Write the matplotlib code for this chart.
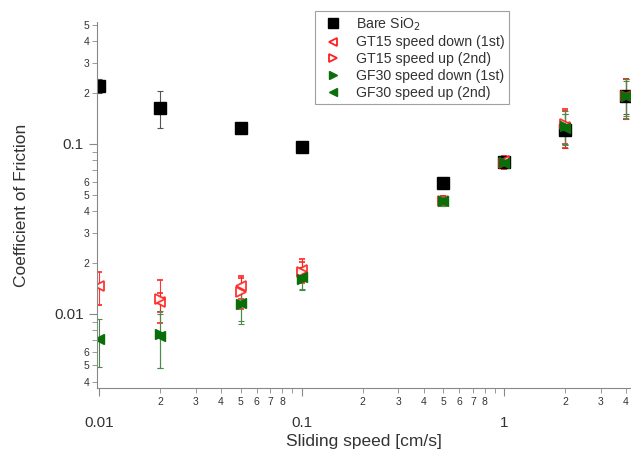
import numpy as np
import matplotlib.pyplot as plt
from matplotlib.lines import Line2D
from matplotlib.ticker import LogLocator, FuncFormatter

plt.rcParams['font.family'] = ['Liberation Sans', 'DejaVu Sans']

speed = [0.01, 0.02, 0.05, 0.1, 0.5, 1, 2, 4]

sio2_y = [0.22, 0.162, 0.123, 0.096, 0.059, 0.078, 0.12, 0.19]
sio2_lo = [0.02, 0.038, 0.004, 0.003, 0.002, 0.004, 0.025, 0.04]
sio2_hi = [0.02, 0.043, 0.004, 0.003, 0.002, 0.004, 0.03, 0.05]

gt_down_x = [0.01, 0.02, 0.05, 0.1, 0.5, 1, 2, 4]
gt_down_y = [0.0145, 0.0118, 0.0145, 0.0182, 0.046, 0.079, 0.125, 0.19]
gt_down_err = [0.0032, 0.0015, 0.0022, 0.0028, 0.003, 0.006, 0.03, 0.05]

gt_up_x = [0.02, 0.05, 0.1, 0.5, 1, 2, 4]
gt_up_y = [0.0123, 0.0135, 0.0176, 0.046, 0.077, 0.13, 0.19]
gt_up_err = [0.0035, 0.0028, 0.0025, 0.003, 0.006, 0.03, 0.05]

gf_down_x = [0.02, 0.05, 0.1, 0.5, 1, 2, 4]
gf_down_y = [0.0076, 0.0115, 0.016, 0.046, 0.078, 0.128, 0.19]
gf_down_err = [0.0028, 0.0028, 0.0022, 0.003, 0.005, 0.028, 0.05]

gf_up_x = [0.01, 0.02, 0.05, 0.1, 0.5, 1, 2, 4]
gf_up_y = [0.0071, 0.0074, 0.0116, 0.0165, 0.046, 0.077, 0.124, 0.19]
gf_up_err = [0.0022, 0.0026, 0.0025, 0.0025, 0.003, 0.005, 0.025, 0.045]

fig = plt.figure(figsize=(6.31, 4.53), dpi=100)
ax = fig.add_axes([0.154, 0.1435, 0.846, 0.808])

red = '#ff2020'
green = '#0a6e0a'
ebkw = dict(capsize=2.5, elinewidth=0.8, capthick=0.8, linestyle='none')

ax.errorbar(speed, sio2_y, yerr=[sio2_lo, sio2_hi], marker='s', ms=8, color='black',
            ecolor='#555555', **ebkw)
ax.errorbar(gt_down_x, gt_down_y, yerr=gt_down_err, marker='<', ms=7, mfc='white', mec=red,
            mew=1.3, color=red, ecolor=red, alpha=0.9, **ebkw)
ax.errorbar(gt_up_x, gt_up_y, yerr=gt_up_err, marker='>', ms=7, mfc='white', mec=red,
            mew=1.3, color=red, ecolor=red, alpha=0.9, **ebkw)
ax.errorbar(gf_down_x, gf_down_y, yerr=gf_down_err, marker='>', ms=7, color=green,
            ecolor='#4a8a4a', **ebkw)
ax.errorbar(gf_up_x, gf_up_y, yerr=gf_up_err, marker='<', ms=7, color=green,
            ecolor='#4a8a4a', **ebkw)

ax.set_xscale('log')
ax.set_yscale('log')
ax.set_xlim(0.00977, 4.23)
ax.set_ylim(0.00367, 0.52)

for s in ['top', 'right']:
    ax.spines[s].set_visible(False)
for s in ['left', 'bottom']:
    ax.spines[s].set_color('#888888')

def major_fmt(v, pos):
    return '%g' % v

def minor_fmt(v, pos):
    m = int(round(v / 10 ** np.floor(np.log10(v) + 1e-9)))
    return str(m) if m <= 8 else ''

def minor_fmt_y(v, pos):
    m = int(round(v / 10 ** np.floor(np.log10(v) + 1e-9)))
    return str(m) if m <= 6 else ''

ax.xaxis.set_major_locator(LogLocator(base=10))
ax.xaxis.set_minor_locator(LogLocator(base=10, subs=np.arange(2, 10)))
ax.yaxis.set_major_locator(LogLocator(base=10))
ax.yaxis.set_minor_locator(LogLocator(base=10, subs=np.arange(2, 10)))
ax.xaxis.set_major_formatter(FuncFormatter(major_fmt))
ax.xaxis.set_minor_formatter(FuncFormatter(minor_fmt))
ax.yaxis.set_major_formatter(FuncFormatter(major_fmt))
ax.yaxis.set_minor_formatter(FuncFormatter(minor_fmt_y))

ax.tick_params(which='major', direction='out', length=6, color='#888888', labelsize=11,
               labelcolor='#333333')
ax.tick_params(which='minor', direction='out', length=3.5, color='#888888', labelsize=7.5,
               labelcolor='#333333')
ax.tick_params(axis='x', which='major', pad=14)
ax.tick_params(axis='x', which='minor', pad=3)
ax.tick_params(axis='y', which='minor', pad=2)

ax.set_xlabel('Sliding speed [cm/s]', fontsize=12.5, color='#333333', labelpad=3)
ax.set_ylabel('Coefficient of Friction', fontsize=12.5, color='#333333', labelpad=18)

handles = [
    Line2D([], [], marker='s', ms=7, color='black', ls='none'),
    Line2D([], [], marker='<', ms=6, mfc='white', mec=red, mew=1.3, ls='none'),
    Line2D([], [], marker='>', ms=6, mfc='white', mec=red, mew=1.3, ls='none'),
    Line2D([], [], marker='>', ms=6, color=green, ls='none'),
    Line2D([], [], marker='<', ms=6, color=green, ls='none'),
]
labels = ['Bare SiO$_2$', 'GT15 speed down (1st)', 'GT15 speed up (2nd)',
          'GF30 speed down (1st)', 'GF30 speed up (2nd)']
leg = ax.legend(handles, labels, loc='upper left', bbox_to_anchor=(0.408, 1.03), fontsize=10.2,
                frameon=True, fancybox=False, edgecolor='#888888', handletextpad=0.6,
                borderpad=0.3, labelspacing=0.2, handlelength=2.0, borderaxespad=0)
leg.get_frame().set_linewidth(0.8)
for t in leg.get_texts():
    t.set_color('#333333')

fig.savefig('out.png', dpi=100)
